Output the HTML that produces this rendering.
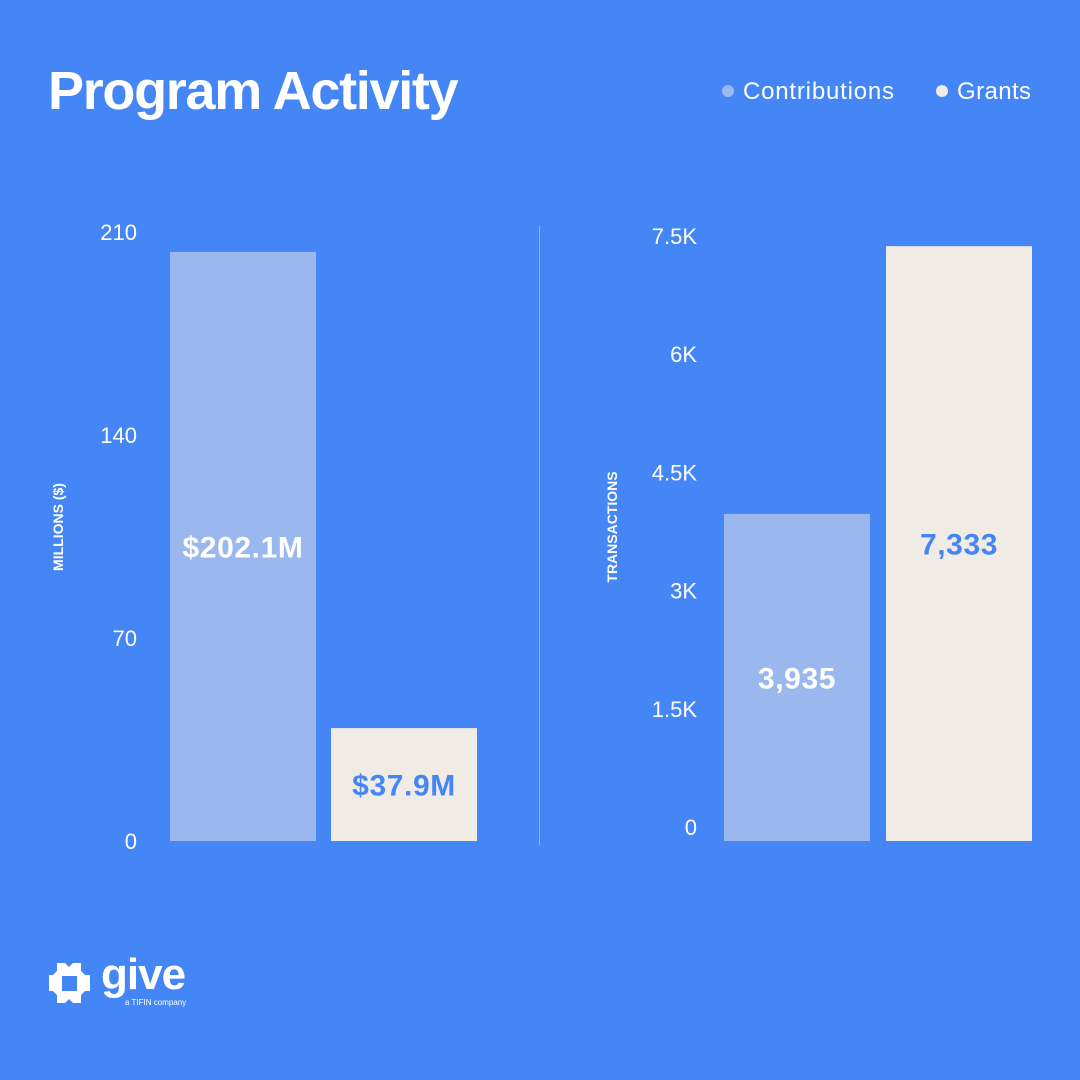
<!DOCTYPE html>
<html><head><meta charset="utf-8"><style>
html,body{margin:0;padding:0;}
body{width:1080px;height:1080px;background:#4486F6;font-family:"Liberation Sans",sans-serif;position:relative;overflow:hidden;color:#fff;}
.t{position:absolute;white-space:nowrap;}
</style></head><body>
<div class="t" style="left:48px;top:60px;font-size:54px;font-weight:bold;letter-spacing:-1.3px;">Program Activity</div>
<div class="t" style="left:722px;top:78px;font-size:24px;letter-spacing:0.8px;"><span style="display:inline-block;width:12px;height:12px;border-radius:50%;background:#9AB8EE;margin-right:9px;vertical-align:2px"></span>Contributions</div>
<div class="t" style="left:936px;top:78px;font-size:24px;letter-spacing:0.4px;"><span style="display:inline-block;width:12px;height:12px;border-radius:50%;background:#F0EBE5;margin-right:9px;vertical-align:2px"></span>Grants</div>
<svg id="chart" width="1080" height="1080" style="position:absolute;left:0;top:0"></svg>
<div class="t" style="left:47px;top:958px;">
<svg width="45" height="45" viewBox="0 0 45 45" style="position:absolute;left:0;top:3px"><path d="M10 2h8l4 4 4-4h8v8l4 4h5v16h-5l-4 4v8h-8l-4-4-4 4h-8v-8l-4-4H2V14h4l4-4z" fill="#fff"/><rect x="15" y="15" width="15" height="15" fill="#4486F6"/></svg>
<div class="t" style="left:54px;top:-8px;font-size:44px;font-weight:bold;letter-spacing:-1px">give</div>
<div class="t" style="left:78px;top:40px;font-size:8px;">a TIFIN company</div>
</div>
<script>
const NS="http://www.w3.org/2000/svg";
const svg=document.getElementById('chart');
const leftCats=["Contributions","Grants"];
const leftValues=[202.1,37.9];
const leftLabels=["$202.1M","$37.9M"];
const leftTicks=[0,70,140,210];
const leftTickLabels=["0","70","140","210"];
const rightValues=[3935,7333];
const rightLabels=["3,935","7,333"];
const rightTicks=[0,1500,3000,4500,6000,7500];
const rightTickLabels=["0","1.5K","3K","4.5K","6K","7.5K"];
const colors=["#9AB8EE","#F0EBE5"];
const textColors=["#fff","#4486F6"];
function mk(tag,attrs,name){const e=document.createElementNS(NS,tag);for(const k in attrs)e.setAttribute(k,attrs[k]);


svg.appendChild(e);return e;}
function draw(vals,labels,ticks,tlabels,y,xs,tickX,prefix){
 ticks.forEach((t,i)=>{const e=mk('text',{x:tickX,y:y(t)+11,'text-anchor':'end','font-size':22,fill:'#fff','font-family':'Liberation Sans'},prefix+'-tick-label');e.textContent=tlabels[i];});
 vals.forEach((v,i)=>{const top=y(v);
  mk('rect',{x:xs[i],y:top,width:146,height:841-top,fill:colors[i]},prefix+'-bar-'+i);
  const e=mk('text',{x:xs[i]+73,y:(top+841)/2+11,'text-anchor':'middle','font-size':30,'font-weight':'bold','letter-spacing':'0.6',fill:textColors[i],'font-family':'Liberation Sans'},prefix+'-value-label-'+i);e.textContent=labels[i];});
}
const yl=v=>838-v*2.9;
const yr=v=>824-v*0.0788;
draw(leftValues,leftLabels,leftTicks,leftTickLabels,yl,[170,331],137,'left');
draw(rightValues,rightLabels,rightTicks,rightTickLabels,yr,[724,886],697,'right');
mk('line',{x1:539.5,y1:226,x2:539.5,y2:845,stroke:'#8FB3F5','stroke-width':1},'divider');
let a=mk('text',{x:0,y:0,transform:'translate(63,527) rotate(-90)','text-anchor':'middle','font-size':14,'font-weight':'bold',fill:'#fff','font-family':'Liberation Sans'},'y-axis-title-left');a.textContent='MILLIONS ($)';
a=mk('text',{x:0,y:0,transform:'translate(617,527) rotate(-90)','text-anchor':'middle','font-size':14,'font-weight':'bold',fill:'#fff','font-family':'Liberation Sans'},'y-axis-title-right');a.textContent='TRANSACTIONS';
</script>
</body></html>
